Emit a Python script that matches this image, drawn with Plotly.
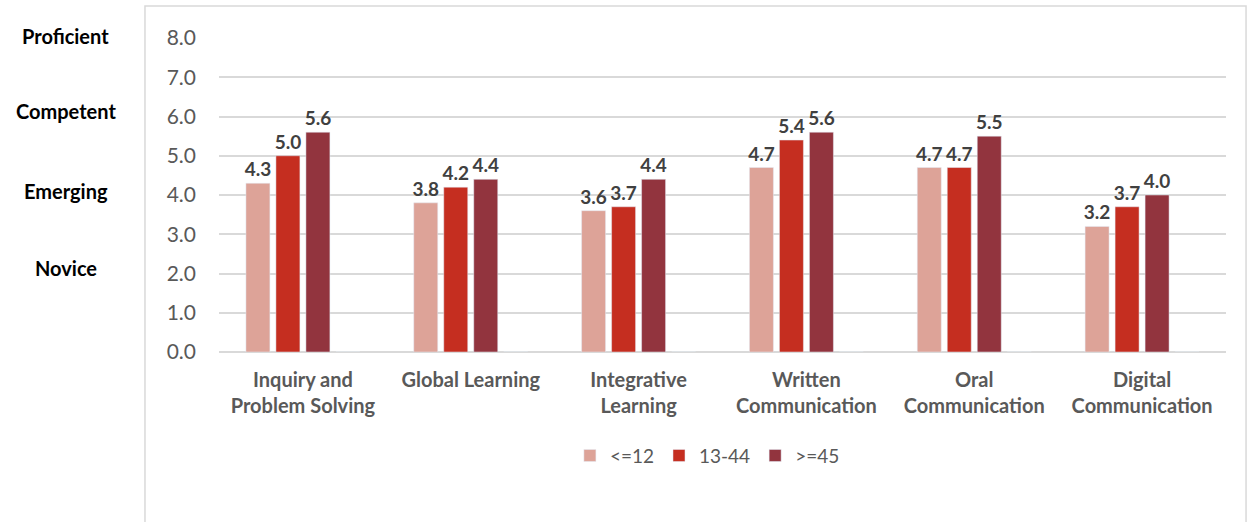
import plotly.graph_objects as go

categories = ["Inquiry and<br>Problem Solving", "Global Learning", "Integrative<br>Learning",
              "Written<br>Communication", "Oral<br>Communication", "Digital<br>Communication"]
series_names = ["<=12", "13-44", ">=45"]
vals_le12 = [4.3, 3.8, 3.6, 4.7, 4.7, 3.2]
vals_13_44 = [5.0, 4.2, 3.7, 5.4, 4.7, 3.7]
vals_ge45 = [5.6, 4.4, 4.4, 5.6, 5.5, 4.0]
colors = ["#DDA398", "#C52E20", "#92343E"]
y_ticks = [0, 1, 2, 3, 4, 5, 6, 7, 8]
level_labels = ["Proficient", "Competent", "Emerging", "Novice"]
level_y = [8.05, 6.15, 4.1, 2.15]
Y_MAX = 8

FONT = "Lato"
GRAY = "#595959"

fig = go.Figure()
for name, vals, col in zip(series_names, [vals_le12, vals_13_44, vals_ge45], colors):
    fig.add_trace(go.Bar(
        x=[f"<b>{c}</b>" for c in categories], y=vals, name=name,
        marker=dict(color=col),
        text=[f"{v:.1f}" for v in vals], texttemplate="<b>%{text}</b>",
        textposition="outside", constraintext="none", cliponaxis=False,
        textfont=dict(family=FONT, size=19, color="#404040"),
    ))
# hidden empty fourth series (keeps Excel-like slot layout)
fig.add_trace(go.Bar(x=[f"<b>{c}</b>" for c in categories], y=[0] * len(categories),
                     showlegend=False, hoverinfo="skip", marker=dict(color="rgba(0,0,0,0)")))

for lab, yy in zip(level_labels, level_y):
    fig.add_annotation(text=f"<b>{lab}</b>", x=-0.152, xref="paper", y=yy / Y_MAX, yref="paper",
                       showarrow=False, xanchor="center", yanchor="middle",
                       font=dict(family=FONT, size=20, color="#000000"))

fig.add_shape(type="rect", xref="paper", yref="paper", x0=-0.0735, x1=1.0199, y0=-1.0, y1=1.102,
              line=dict(color="#D9D9D9", width=1.5), fillcolor="rgba(0,0,0,0)", layer="below")

fig.update_layout(
    width=1247, height=522,
    margin=dict(l=219, r=21, t=38, b=170),
    paper_bgcolor="white", plot_bgcolor="white",
    barmode="group", bargap=0.285, bargroupgap=0.2,
    font=dict(family=FONT, color=GRAY),
    legend=dict(orientation="h", x=0.485, xanchor="center", y=-0.33, yanchor="middle",
                font=dict(family=FONT, size=19, color=GRAY), traceorder="normal"),
    yaxis=dict(range=[0, Y_MAX], tickvals=y_ticks, ticktext=[f"{t:.1f}" for t in y_ticks],
               showgrid=True, gridcolor="#D9D9D9", gridwidth=1.5,
               zeroline=True, zerolinecolor="#D9D9D9", zerolinewidth=1.5,
               tickfont=dict(family=FONT, size=21, color=GRAY), ticks="",
               ticklabelstandoff=22, showline=False),
    xaxis=dict(tickfont=dict(family=FONT, size=20, color=GRAY), showline=False, ticks="",
               ticklabelstandoff=14),
)

fig.write_html("out.html")
